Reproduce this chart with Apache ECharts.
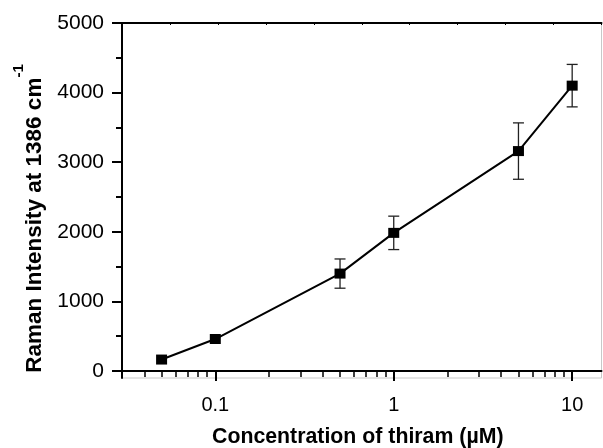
<!DOCTYPE html>
<html>
<head>
<meta charset="utf-8">
<script src="https://cdn.jsdelivr.net/npm/echarts@6/dist/echarts.min.js"></script>
<style>html,body{margin:0;padding:0;background:#fff}#c{width:603px;height:448px}</style>
</head>
<body>
<div id="c"></div>
<script>
// Data
const concentrations = [0.05, 0.1, 0.5, 1, 5, 10];
const intensities = [165, 460, 1400, 1985, 3160, 4100];
const errors = [0, 0, 210, 240, 405, 305];
const yMajorTicks = [0, 1000, 2000, 3000, 4000, 5000];
const yMinorTicks = [500, 1500, 2500, 3500, 4500];
const xMajorTicks = [0.1, 1, 10];
const xMinorTicks = [0.03, 0.04, 0.05, 0.06, 0.07, 0.08, 0.09, 0.2, 0.3, 0.4, 0.5, 0.6, 0.7, 0.8, 0.9, 2, 3, 4, 5, 6, 7, 8, 9];

const FONT = "'Liberation Sans', Arial, sans-serif";
const lineData = concentrations.map((c, i) => [c, intensities[i]]);
const errData = concentrations.map((c, i) => [c, intensities[i] - errors[i], intensities[i] + errors[i]]).filter((d, i) => errors[i] > 0);

const chart = echarts.init(document.getElementById('c'));
chart.setOption({
  animation: false,
  backgroundColor: '#fff',
  grid: { left: 122, top: 23, right: 1.5, bottom: 70, show: true, borderColor: '#c8c8c8', borderWidth: 1,
    containLabel: false, outerBoundsMode: 'none' },
  xAxis: [
    {
      type: 'log', logBase: 10, min: 0.03, max: 14.6, position: 'bottom',
      axisLine: { show: true, lineStyle: { color: '#000', width: 2 } },
      axisTick: { show: true, length: 10, lineStyle: { color: '#000', width: 2 }, customValues: xMajorTicks },
      axisLabel: { customValues: xMajorTicks, fontFamily: FONT, fontSize: 20, color: '#000', margin: 17,
        formatter: v => String(parseFloat(Number(v).toPrecision(4))) },
      splitLine: { show: false }, minorTick: { show: false },
      name: 'Concentration of thiram (µM)', nameLocation: 'middle', nameGap: 49,
      nameTextStyle: { fontFamily: FONT, fontSize: 21.3, fontWeight: 'bold', color: '#000', padding: [0, 8, 0, 0] }
    },
    {
      type: 'log', logBase: 10, min: 0.03, max: 14.6, position: 'bottom',
      axisLine: { show: false },
      axisTick: { show: true, length: 6, lineStyle: { color: '#000', width: 1.5 }, customValues: xMinorTicks },
      axisLabel: { show: false }, splitLine: { show: false }
    },
    {
      type: 'value', min: 0, max: 10, interval: 1, position: 'top',
      axisLine: { show: true, lineStyle: { color: '#000', width: 2 } },
      axisTick: { show: true, inside: true, length: 2, lineStyle: { color: '#000', width: 1 } },
      axisLabel: { show: false }, splitLine: { show: false }
    }
  ],
  yAxis: [
    {
      type: 'value', min: -100, max: 5000, position: 'left',
      axisLine: { show: true, lineStyle: { color: '#000', width: 2 } },
      axisTick: { show: true, length: 10, lineStyle: { color: '#000', width: 2 }, customValues: yMajorTicks },
      axisLabel: { customValues: yMajorTicks, fontFamily: FONT, fontSize: 21, color: '#000', margin: 18,
        formatter: v => String(v) },
      splitLine: { show: false },
      name: '{a|Raman Intensity at 1386 cm}{s|-1}', nameLocation: 'middle', nameRotate: 90, nameGap: 64,
      nameTextStyle: {
        color: '#000',
        padding: [0, 36, 0, 0],
        rich: {
          a: { fontFamily: FONT, fontSize: 22.5, fontWeight: 'bold', color: '#000', lineHeight: 35, verticalAlign: 'bottom' },
          s: { fontFamily: FONT, fontSize: 15, fontWeight: 'bold', color: '#000', lineHeight: 16, verticalAlign: 'top' }
        }
      }
    },
    {
      type: 'value', min: -100, max: 5000, position: 'left',
      axisLine: { show: false },
      axisTick: { show: true, length: 6, lineStyle: { color: '#000', width: 2 }, customValues: yMinorTicks },
      axisLabel: { show: false }, splitLine: { show: false }
    }
  ],
  series: [
    {
      type: 'custom', xAxisIndex: 0, yAxisIndex: 0, z: 3,
      data: errData,
      renderItem: function (params, api) {
        const x = api.value(0);
        const lo = api.coord([x, api.value(1)]);
        const hi = api.coord([x, api.value(2)]);
        const hw = 5.5;
        const st = { stroke: '#222', lineWidth: 1.3 };
        return {
          type: 'group',
          children: [
            { type: 'line', shape: { x1: lo[0], y1: lo[1], x2: hi[0], y2: hi[1] }, style: st },
            { type: 'line', shape: { x1: lo[0] - hw, y1: lo[1], x2: lo[0] + hw, y2: lo[1] }, style: st },
            { type: 'line', shape: { x1: hi[0] - hw, y1: hi[1], x2: hi[0] + hw, y2: hi[1] }, style: st }
          ]
        };
      }
    },
    {
      type: 'line', xAxisIndex: 0, yAxisIndex: 0, z: 4,
      data: lineData,
      symbol: 'rect', symbolSize: [11, 10],
      itemStyle: { color: '#000' },
      lineStyle: { color: '#000', width: 2 }
    }
  ]
});
</script>
</body>
</html>
